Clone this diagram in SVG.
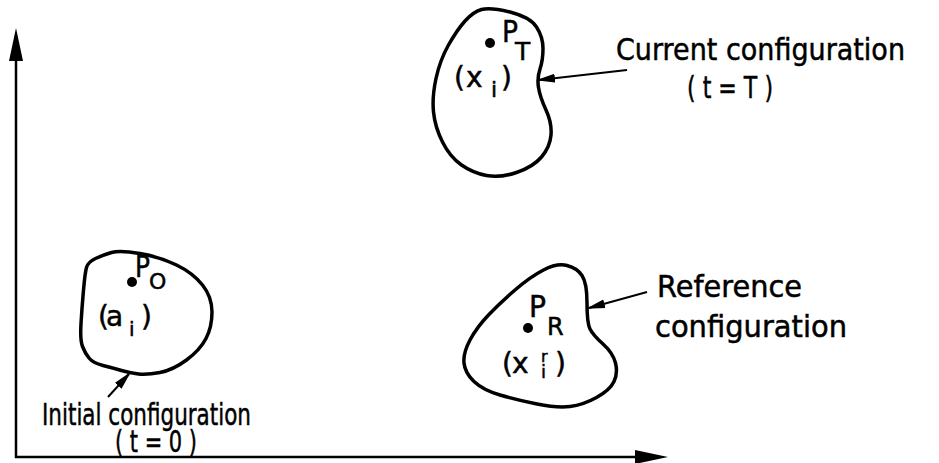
<svg xmlns="http://www.w3.org/2000/svg" width="939" height="463" viewBox="0 0 939 463">
<style>
.blob{fill:none;stroke:#000;stroke-width:3.5;stroke-linejoin:round}
.axis{stroke:#000;stroke-width:2.5;fill:none}
.lead{stroke:#000;stroke-width:2;fill:none}
.lbl{font-family:"DejaVu Sans",sans-serif;font-size:30px;fill:#000;stroke:#000;stroke-width:0.5}
.sym{font-family:"DejaVu Sans",sans-serif;font-size:28px;fill:#000;stroke:#000;stroke-width:0.5}
.dot{fill:#000}
</style>
<defs>
<marker id="axisHead" markerUnits="userSpaceOnUse" markerWidth="34" markerHeight="16" viewBox="0 0 34 16" refX="24" refY="8" orient="auto">
<path d="M0,1 L33,8 L0,15 Z" fill="#000"/>
</marker>
<marker id="leadHead" markerUnits="userSpaceOnUse" markerWidth="20" markerHeight="10" viewBox="0 0 20 10" refX="16" refY="5" orient="auto">
<path d="M0,0.5 L19,5 L0,9.5 Z" fill="#000"/>
</marker>
</defs>
<rect width="939" height="463" fill="#fff"/>

<g id="axes">
<line class="axis" x1="16" y1="458" x2="16" y2="37" marker-end="url(#axisHead)"/>
<line class="axis" x1="15" y1="457" x2="659" y2="457" marker-end="url(#axisHead)"/>
</g>

<g id="initial">
<path class="blob" d="M95.5,258.5 Q103,255 111.5,252.5 Q120,250 140,253.5 Q160,257 176.5,265 Q193,273 202.5,285 Q212,297 212,312 Q212,327 206,338.5 Q200,350 186.5,360 Q173,370 160,372.5 Q147,375 138.5,374 Q130,373 121.5,370.5 Q113,368 103,365.5 Q93,363 89,358 Q85,353 82.5,346.5 Q80,340 81,323.5 Q82,307 83.5,290 Q85,273 86.5,267.5 Q88,262 95.5,258.5 Z"/>
<circle class="dot" cx="132" cy="282" r="5"/>
<text class="lbl" x="135" y="277" textLength="15" lengthAdjust="spacingAndGlyphs">P</text>
<text class="lbl" x="149" y="289" style="font-size:22px">O</text>
<text class="sym" x="98 106" y="326">(a</text>
<text class="sym" x="129" y="336" style="font-size:20px">i</text>
<text class="sym" x="141" y="326">)</text>
<text class="lbl" x="42" y="425" textLength="209" lengthAdjust="spacingAndGlyphs">Initial configuration</text>
<text class="lbl" x="115" y="452" textLength="82" lengthAdjust="spacingAndGlyphs">( t = 0 )</text>
</g>

<g id="current">
<path class="blob" d="M481.5,9.5 Q490,7 510,12 Q530,17 536.5,27 Q543,37 543,48.5 Q543,60 540,69 Q537,78 538.5,87.5 Q540,97 546,110 Q552,123 551,135 Q550,147 541.5,157 Q533,167 516.5,172.5 Q500,178 486.5,175.5 Q473,173 461.5,165 Q450,157 442.5,142 Q435,127 433.5,112 Q432,97 436,78.5 Q440,60 448.5,45 Q457,30 465,21 Q473,12 481.5,9.5 Z"/>
<circle class="dot" cx="490" cy="43" r="5"/>
<text class="lbl" x="502" y="42" textLength="16" lengthAdjust="spacingAndGlyphs">P</text>
<text class="lbl" x="515" y="60" style="font-size:25px">T</text>
<text class="sym" x="454 466" y="87">(x</text>
<text class="sym" x="491" y="97" style="font-size:22px">i</text>
<text class="sym" x="501" y="87">)</text>
<text class="lbl" x="616" y="60" textLength="289" lengthAdjust="spacingAndGlyphs">Current configuration</text>
<text class="lbl" x="687" y="98" textLength="86" lengthAdjust="spacingAndGlyphs">( t = T )</text>
</g>

<g id="reference">
<path class="blob" d="M543.5,270 Q557,263 567,265.5 Q577,268 582,275.5 Q587,283 587,303 Q587,323 590,329 Q593,335 603,344 Q613,353 615.5,363 Q618,373 614,381.5 Q610,390 596.5,397.5 Q583,405 570,406.5 Q557,408 537,404 Q517,400 500,395 Q483,390 474,381.5 Q465,373 464,363 Q463,353 470,340 Q477,327 488.5,315 Q500,303 515,290 Q530,277 543.5,270 Z"/>
<circle class="dot" cx="528" cy="328" r="5"/>
<text class="lbl" x="529" y="317" textLength="17" lengthAdjust="spacingAndGlyphs">P</text>
<text class="lbl" x="547" y="335" style="font-size:24px">R</text>
<text class="sym" x="502 512" y="373">(x</text>
<text class="sym" x="541" y="362" style="font-size:16px">r</text>
<text class="sym" x="541" y="378" style="font-size:18px">i</text>
<text class="sym" x="555" y="373">)</text>
<text class="lbl" x="657" y="297" textLength="145" lengthAdjust="spacingAndGlyphs">Reference</text>
<text class="lbl" x="655" y="337" textLength="192" lengthAdjust="spacingAndGlyphs">configuration</text>
</g>

<g id="connectors">
<line class="lead" x1="627" y1="70" x2="539" y2="80" marker-end="url(#leadHead)"/>
<line class="lead" x1="647" y1="292" x2="589" y2="308" marker-end="url(#leadHead)"/>
<line class="lead" x1="108" y1="397" x2="129" y2="374" marker-end="url(#leadHead)"/>
</g>
</svg>
